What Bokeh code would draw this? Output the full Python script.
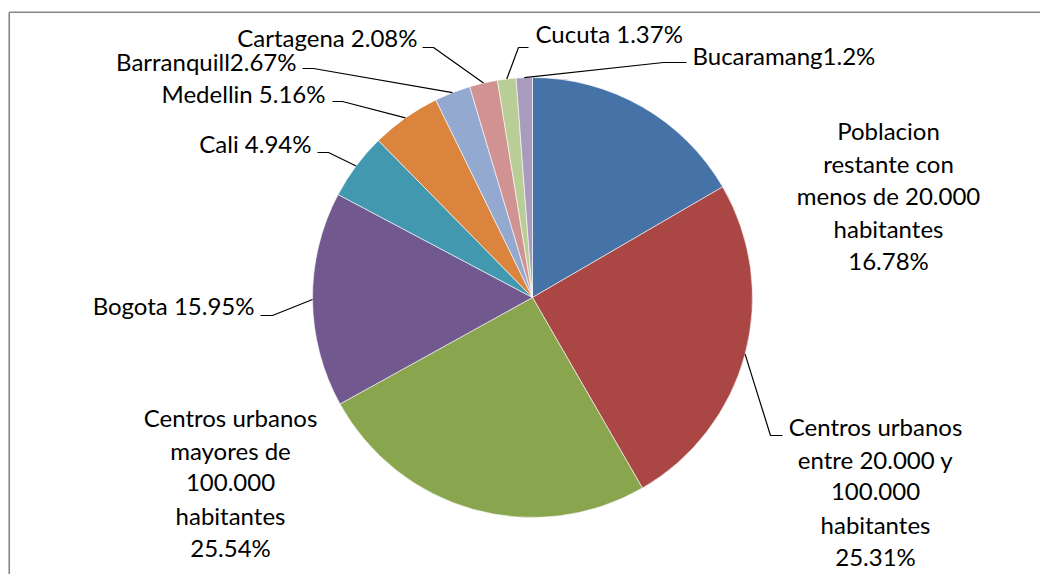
import math
from bokeh.plotting import figure
from bokeh.models import ColumnDataSource, Range1d
from bokeh.core.properties import value
from bokeh.embed import file_html
from bokeh.resources import INLINE

# ---- data ----
categories = ["Poblacion restante con menos de 20.000 habitantes",
              "Centros urbanos entre 20.000 y 100.000 habitantes",
              "Centros urbanos mayores de 100.000 habitantes",
              "Bogota", "Cali", "Medellin", "Barranquill", "Cartagena",
              "Cucuta", "Bucaramang"]
values = [16.78, 25.31, 25.54, 15.95, 4.94, 5.16, 2.67, 2.08, 1.37, 1.2]
label_texts = ["Poblacion\nrestante con\nmenos de 20.000\nhabitantes\n16.78%",
               "Centros urbanos\nentre 20.000 y\n100.000\nhabitantes\n25.31%",
               "Centros urbanos\nmayores de\n100.000\nhabitantes\n25.54%",
               "Bogota 15.95%", "Cali 4.94%", "Medellin 5.16%",
               "Barranquill2.67%", "Cartagena 2.08%", "Cucuta 1.37%",
               "Bucaramang1.2%"]
colors = ["#4572A7", "#AA4643", "#89A54E", "#71588F", "#4198AF",
          "#DB843D", "#93A9CF", "#D19392", "#B9CD96", "#A99BBD"]

# ---- layout (picture pixel positions) ----
W, H = 1040, 574


def px(x):
    return x


def py(y):
    return H - y


CX, CY, R = 532, 297, 220
# vertical centres of first text line
label_x = [888, 875, 230, 254, 311, 325, 296, 417, 535, 692]
label_y = [130, 426, 417, 305, 143, 93, 61, 37, 33, 55]
label_align = ["center", "center", "center", "right", "right", "right",
               "right", "right", "left", "left"]
line_step = 32.5
# leader elbow and end points (None = no leader)
leader_elbow = [None, (770, 435), None, (272, 315), (328, 152), (342, 101),
                (313, 68), (433, 47), (518, 47), (663, 62)]
leader_end = [None, (782, 435), None, (260, 315), (317, 152), (332, 101),
              (302, 68), (422, 47), (528, 47), (686, 62)]

FONT = "Lato"
FSIZE = "24px"

p = figure(width=W, height=H, output_backend="svg", toolbar_location=None,
           x_range=Range1d(0, W), y_range=Range1d(0, H),
           x_axis_location=None, y_axis_location=None, min_border=0)
p.grid.visible = False
p.outline_line_color = None
p.background_fill_color = "white"
p.border_fill_color = "white"

# chart-area border (top and left visible part)
p.line(x=[W, 8.75], y=[py(11.7), py(11.7)], line_color="#868686", line_width=1.6)
p.line(x=[8.75, 8.75], y=[py(11.7), 0], line_color="#868686", line_width=1.6)

total = sum(values)
starts, ends, mids = [], [], []
cum = 0.0
for v in values:
    a0 = math.pi / 2 - 2 * math.pi * cum / total
    cum += v
    a1 = math.pi / 2 - 2 * math.pi * cum / total
    starts.append(a0)
    ends.append(a1)
    mids.append((a0 + a1) / 2)

src = ColumnDataSource(dict(x=[px(CX)] * len(values), y=[py(CY)] * len(values),
                            start=starts, end=ends, color=colors, cat=categories))
p.wedge(x="x", y="y", radius=R, radius_units="screen", start_angle="start",
        end_angle="end", direction="clock", fill_color="color",
        line_color="white", line_alpha=0.6, line_width=1, source=src)

# leader lines
xs, ys = [], []
for i, m in enumerate(mids):
    if leader_elbow[i] is None:
        continue
    ex = px(CX) + R * math.cos(m)
    ey = py(CY) + R * math.sin(m)
    bx, by = leader_elbow[i]
    tx, ty = leader_end[i]
    xs.append([ex, px(bx), px(tx)])
    ys.append([ey, py(by), py(ty)])
p.multi_line(xs=xs, ys=ys, line_color="black", line_width=1.2)

# labels
tx_, ty_, tt_, ta_ = [], [], [], []
for i, lab in enumerate(label_texts):
    for j, ln in enumerate(lab.split("\n")):
        tx_.append(px(label_x[i]))
        ty_.append(py(label_y[i] + j * line_step))
        tt_.append(ln)
        ta_.append(label_align[i])
tsrc = ColumnDataSource(dict(x=tx_, y=ty_, text=tt_, align=ta_))
p.text(x="x", y="y", text="text", text_align="align", text_baseline="middle",
       text_font=value(FONT), text_font_size=FSIZE, text_color="black", source=tsrc)

open("out.html", "w").write(file_html(p, INLINE))
